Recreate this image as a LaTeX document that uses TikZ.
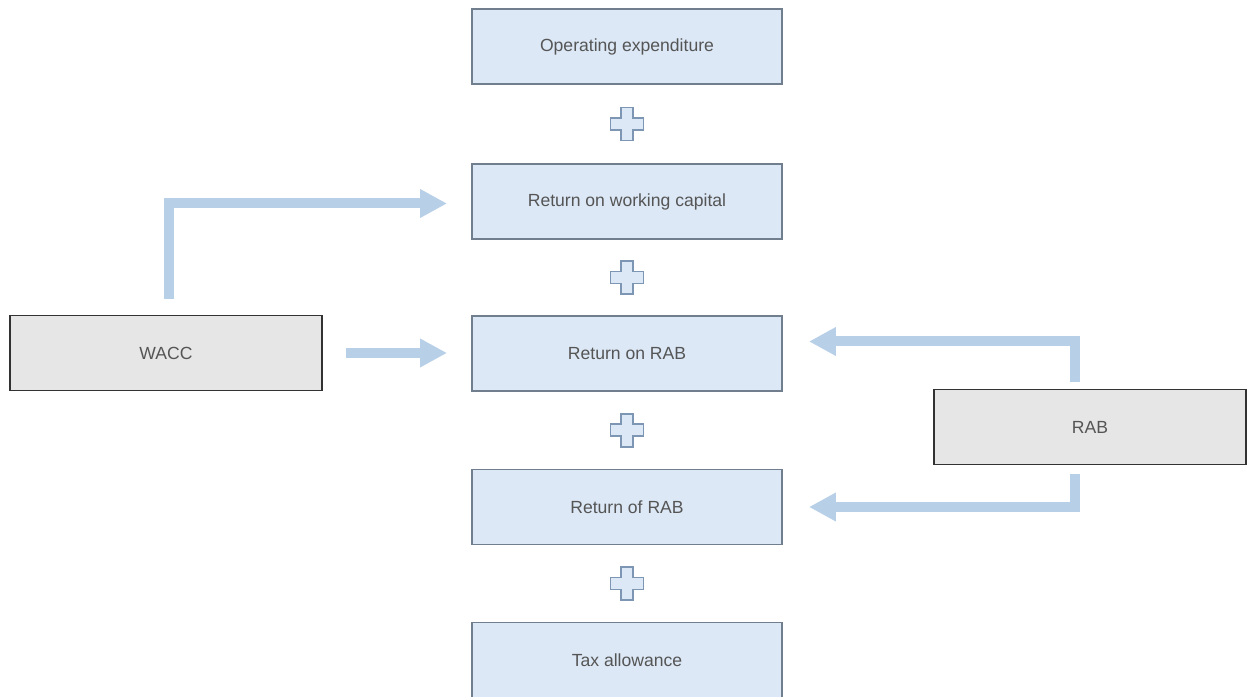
\documentclass[tikz,border=0pt]{standalone}
\usepackage{fontspec}
\setmainfont{Liberation Sans}
\usetikzlibrary{arrows.meta,positioning,calc}
\definecolor{boxblue}{RGB}{220,232,246}
\definecolor{boxedge}{RGB}{112,126,142}
\definecolor{boxgrey}{RGB}{230,230,230}
\definecolor{greyedge}{RGB}{50,50,50}
\definecolor{flowblue}{RGB}{184,207,232}
\definecolor{plusedge}{RGB}{125,150,180}
\definecolor{textgrey}{RGB}{85,85,85}

\begin{document}
\begin{tikzpicture}[font=\fontsize{10}{12}\selectfont,
 cost/.style={draw=boxedge,line width=1.1pt,fill=boxblue,text=textgrey,minimum width=6.2cm,minimum height=1.5cm,inner sep=0pt},
 input/.style={draw=greyedge,line width=1.1pt,fill=boxgrey,text=textgrey,minimum width=6.24cm,minimum height=1.5cm,inner sep=0pt},
 flow/.style={draw=flowblue,line width=0.2cm,line join=miter,-{Triangle[width=0.54cm,length=0.54cm]}},
 plusmark/.style={minimum size=0.8cm,inner sep=0pt,path picture={
   \draw[plusedge,fill=boxblue,line width=0.9pt,shift={(path picture bounding box.center)}]
   (-0.12,0.33) -- (0.12,0.33) -- (0.12,0.12) -- (0.33,0.12) -- (0.33,-0.12) -- (0.12,-0.12)
   -- (0.12,-0.33) -- (-0.12,-0.33) -- (-0.12,-0.12) -- (-0.33,-0.12) -- (-0.33,0.12) -- (-0.12,0.12) -- cycle;}}]
\useasboundingbox (0,0) rectangle (25.02,13.94);
\node[cost] (opex) at (12.54,13.01) {Operating expenditure};
\node[cost] (rwc) at (12.54,9.91) {Return on working capital};
\node[cost] (ror) at (12.54,6.87) {Return on RAB};
\node[cost] (dep) at (12.54,3.80) {Return of RAB};
\node[cost] (tax) at (12.54,0.74) {Tax allowance};
\node[input] (wacc) at (3.32,6.88) {WACC};
\node[input] (rab) at (21.8,5.40) {RAB};
\node[plusmark] (p1) at ($(opex)!0.5!(rwc)$) {};
\node[plusmark] (p2) at ($(rwc)!0.5!(ror)$) {};
\node[plusmark] (p3) at ($(ror)!0.5!(dep)$) {};
\node[plusmark] (p4) at ($(dep)!0.5!(tax)$) {};
\draw[flow] ([xshift=0.46cm]wacc.east) -- ($(wacc.east -| ror.west)+(-0.48,0)$);
\draw[flow] ($(wacc.north)+(0.06,0.32)$) |- ($(rwc.west)+(-0.48,-0.04)$);
\draw[flow] ($(rab.north)+(-0.3,0.14)$) |- ($(ror.east)+(0.52,0.24)$);
\draw[flow] ($(rab.south)+(-0.3,-0.18)$) |- ($(dep.east)+(0.52,0)$);
\end{tikzpicture}
\end{document}
